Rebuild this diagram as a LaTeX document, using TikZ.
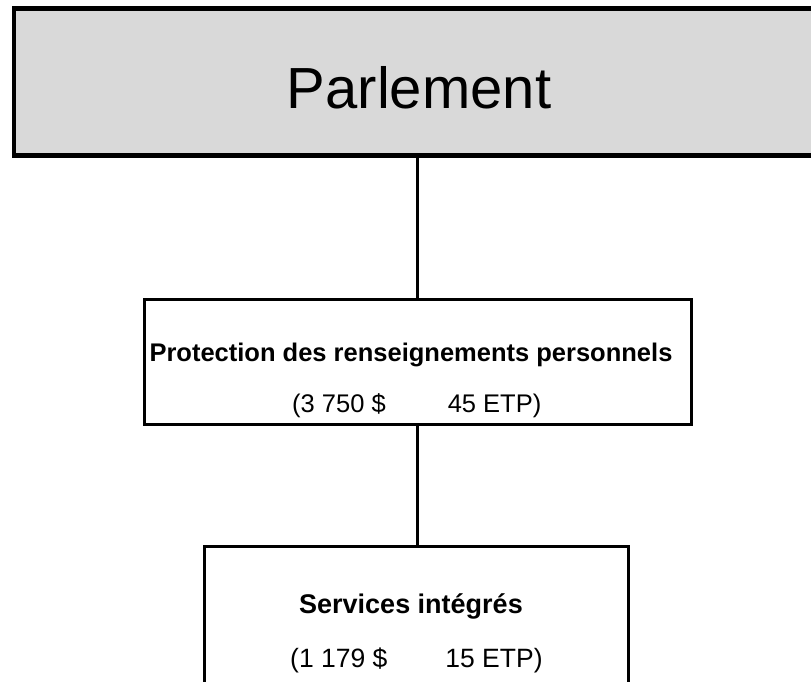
\documentclass[tikz,border=0pt]{standalone}
\usepackage{fontspec}
\setmainfont{Liberation Sans}
\usepackage{tikz}
\usetikzlibrary{positioning}

\tikzset{
  unitbox/.style={draw, rectangle, line width=3pt, fill=white, inner sep=0pt, outer sep=0pt},
  unittitle/.style={anchor=base, inner sep=0pt, font=\bfseries\fontsize{25.5}{30}\selectfont},
  unitnums/.style={anchor=base west, inner sep=0pt, font=\fontsize{25.5}{30}\selectfont}
}

\begin{document}
\begin{tikzpicture}[x=1pt,y=-1pt]
\clip (0,0) rectangle (811,681);
% top box runs off the right edge
\node[draw, line width=4.5pt, fill=black!15, inner sep=0pt, outer sep=0pt,
      minimum width=818pt, minimum height=147pt] (parl) at (423,82) {};
\node[anchor=base, inner sep=0pt, font=\fontsize{58}{70}\selectfont] (parlText) at (419,108.5) 
    {Parlement};

\node[unitbox, minimum width=546.5pt, minimum height=125.5pt] (prot) at (417.75,361.75) {};
\node[unittitle] (protTitle) at (411,361) 
    {Protection des renseignements personnels};
\node[unitnums] (protNums) at (292,412) 
    {(3 750 \$\hspace{62pt}45 ETP)};

% bottom box runs off the lower edge
\node[unitbox, minimum width=424pt, minimum height=154pt] (serv) at (416,623) {};
\node[unittitle, font=\bfseries\fontsize{27}{32}\selectfont] (servTitle) at (411,613) 
    {Services intégrés};
\node[unitnums, font=\fontsize{26.5}{32}\selectfont] (servNums) at (290,667) 
    {(1 179 \$\hspace{58pt}15 ETP)};

\draw[line width=3pt] (prot.north) -- (prot.north |- parl.south);
\draw[line width=3pt] (prot.south) -- (prot.south |- serv.north);
\end{tikzpicture}
\end{document}
